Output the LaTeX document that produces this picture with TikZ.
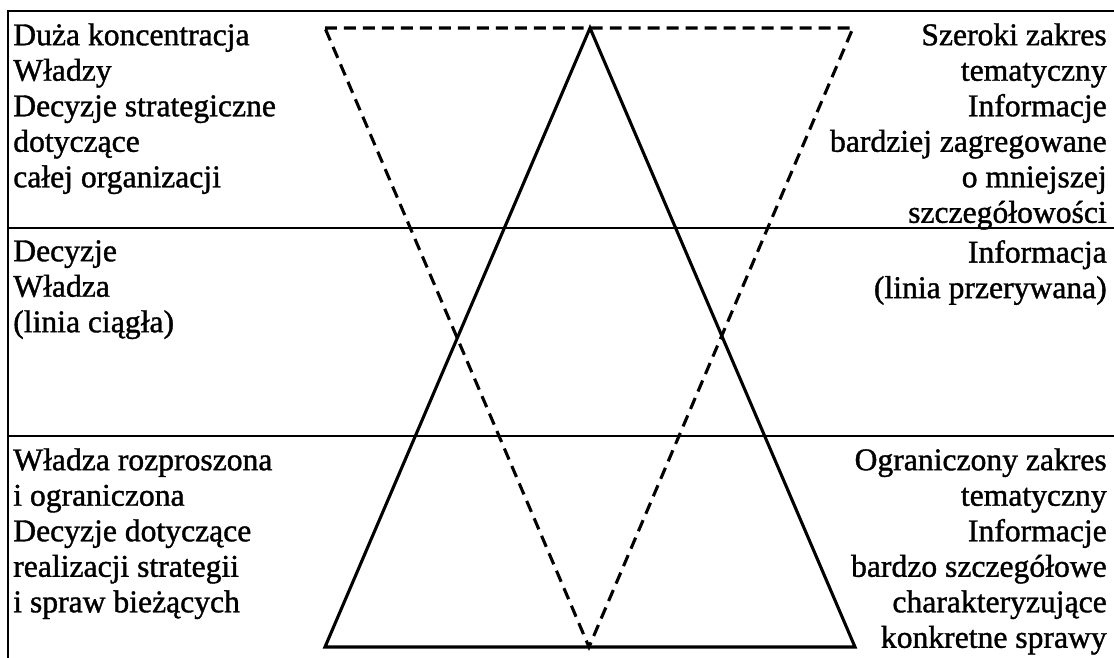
\documentclass[tikz,border=0pt]{standalone}
\usepackage{fontspec}
\setmainfont{Liberation Serif}[FakeBold=1.2]
\usetikzlibrary{positioning}
\tikzset{
  lewy/.style={anchor=north west, align=left, inner sep=0pt},
  prawy/.style={anchor=north east, align=right, inner sep=0pt},
  ramka/.style={line width=1.8pt},
  wladza/.style={line width=2.2pt, line join=miter},
  informacja/.style={line width=2.2pt, dash pattern=on 8.5pt off 5pt},
}
\begin{document}
\begin{tikzpicture}[x=0.025cm, y=-0.025cm, font=\fontsize{22.5}{25.25}\selectfont]
  \useasboundingbox (0,0) rectangle (1114,658);
  % frame and the three levels
  \draw[ramka] (8,658) -- (8,11) -- (1114,11);
  \draw[ramka] (8,228) -- (1114,228);
  \draw[ramka] (8,436) -- (1114,436);

  % solid triangle (wladza)
  \coordinate (w1) at (325,647);
  \coordinate (w2) at (590,28);
  \coordinate (w3) at (855,647);
  \draw[wladza] (w1) -- (w2) -- (w3) -- cycle;

  % dashed triangle (informacja)
  \coordinate (i1) at (325,28);
  \coordinate (i2) at (853,28);
  \coordinate (i3) at (589,647);
  \draw[informacja] (i1) -- (i2) -- (i3) -- cycle;

  % left column
  \node[lewy] (gora l) at (13,23) {Duża koncentracja\\Władzy\\Decyzje strategiczne\\dotyczące\\całej organizacji};
  \node[lewy] (srodek l) at (13,240) {Decyzje\\Władza\\(linia ciągła)};
  \node[lewy] (dol l) at (13,448) {Władza rozproszona\\i ograniczona\\Decyzje dotyczące\\realizacji strategii\\i spraw bieżących};

  % right column
  \node[prawy] (gora p) at (1107,23) {Szeroki zakres\\tematyczny\\Informacje\\bardziej zagregowane\\o mniejszej\\szczegółowości};
  \node[prawy] (srodek p) at (1107,240) {Informacja\\(linia przerywana)};
  \node[prawy] (dol p) at (1107,448) {Ograniczony zakres\\tematyczny\\Informacje\\bardzo szczegółowe\\charakteryzujące\\konkretne sprawy};
\end{tikzpicture}
\end{document}
